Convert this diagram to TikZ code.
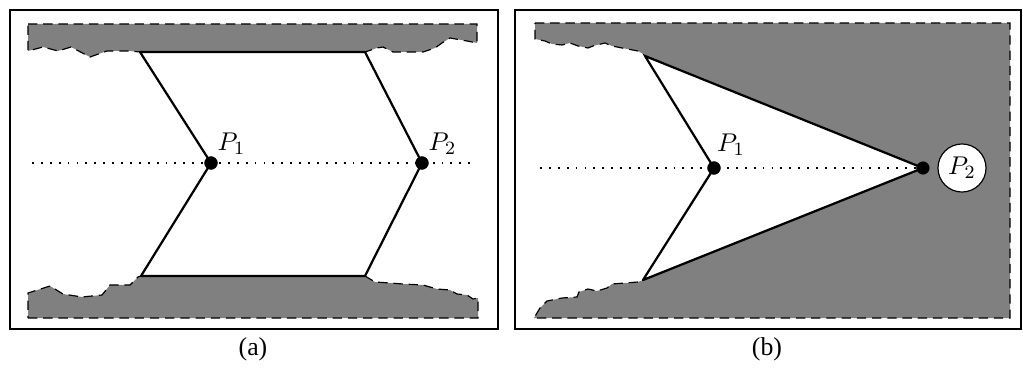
\documentclass[tikz,border=0pt]{standalone}
\usepackage[no-math]{fontspec}
\setmainfont{Liberation Serif}
\usetikzlibrary{positioning}

\begin{document}
\begin{tikzpicture}[
    x=0.015cm, y=-0.015cm,
    font=\fontsize{11}{13}\selectfont,
    frame/.style={draw, line width=0.85pt},
    rock/.style={fill=black!50, draw=black, line width=0.5pt, dash pattern=on 4pt off 2.5pt},
    wall/.style={draw, line width=0.95pt, line join=round},
    axis/.style={draw, line width=0.7pt, dash pattern=on 0.8pt off 3pt},
    pt/.style={circle, fill=black, inner sep=0pt, minimum size=5.6pt},
    lbl/.style={inner sep=1pt},
    ring/.style={circle, draw, fill=white, line width=0.5pt, minimum size=20.5pt, inner sep=0pt}
]
    \useasboundingbox (0,0) rectangle (1023,369);

    % (a)
    \draw[frame] (10,10) rectangle (498,329);
    \coordinate (tla) at (140,52);
    \coordinate (tra) at (365,52);
    \coordinate (bla) at (141,276);
    \coordinate (bra) at (365,276);
    \coordinate (la) at (32,163);
    \coordinate (ra) at (473,163);
    \path[rock] (28,24) -- (477,24) -- (477,43) -- (467,41) -- (450,38) -- (442,43) -- (435,48)
        -- (423,52) -- (393,52) -- (383,47) -- (377,48) -- (tra) -- (tla) -- (130,51) -- (107,51)
        -- (90,57) -- (71,47) -- (58,51) -- (43,47) -- (28,51) -- cycle;
    \path[rock] (28,318) -- (478,318) -- (478,298) -- (473,299) -- (467,295) -- (457,294) -- (450,290)
        -- (437,289) -- (423,285) -- (403,284) -- (390,283) -- (375,282) -- (bra) -- (bla) -- (138,277)
        -- (130,285) -- (110,285) -- (102,295) -- (82,297) -- (63,294) -- (50,286) -- (28,293) -- cycle;
    \node[pt] (p1a) at (211,163) {};
    \node[pt] (p2a) at (422,163) {};
    \draw[axis] (la) -- (ra);
    \draw[wall] (tla) -- (p1a.center) -- (bla) -- (bra) -- (p2a.center) -- (tra) -- cycle;
    \node[pt] at (p1a) {};
    \node[pt] at (p2a) {};
    \node[lbl] (l1a) [above right=0.5pt and -0.5pt of p1a] {$P_1$};
    \node[lbl] (l2a) [above right=0.5pt and -0.5pt of p2a] {$P_2$};
    \node (capa) at (253,349) {(a)};

    % (b)
    \draw[frame] (515,10) rectangle (1021,329);
    \coordinate (tb) at (645,56);
    \coordinate (bb) at (643,280);
    \coordinate (lb) at (540,168);
    \node[pt] (p1b) at (714,168) {};
    \node[pt] (p2b) at (923,168) {};
    \path[rock] (535,23) -- (1010,23) -- (1010,318) -- (534,318) -- (540,308) -- (547,301) -- (562,298)
        -- (577,297) -- (579,292) -- (588,289) -- (597,291) -- (607,288) -- (612,284) -- (625,283)
        -- (638,282) -- (bb) -- (p2b.center) -- (tb) -- (643,54) -- (638,51) -- (622,48) -- (612,46)
        -- (605,43) -- (593,46) -- (588,48) -- (578,46) -- (570,43) -- (562,45) -- (552,44)
        -- (545,41) -- (535,39) -- cycle;
    \draw[axis] (lb) -- (p2b.center);
    \draw[wall] (tb) -- (p1b.center) -- (bb) -- (p2b.center) -- cycle;
    \node[pt] at (p1b) {};
    \node[pt] at (p2b) {};
    \node[lbl] (l1b) [above right=2pt and -2pt of p1b] {$P_1$};
    \node[ring] (l2b) at (962,168) {$P_2$};
    \node (capb) at (767,349) {(b)};
\end{tikzpicture}
\end{document}
